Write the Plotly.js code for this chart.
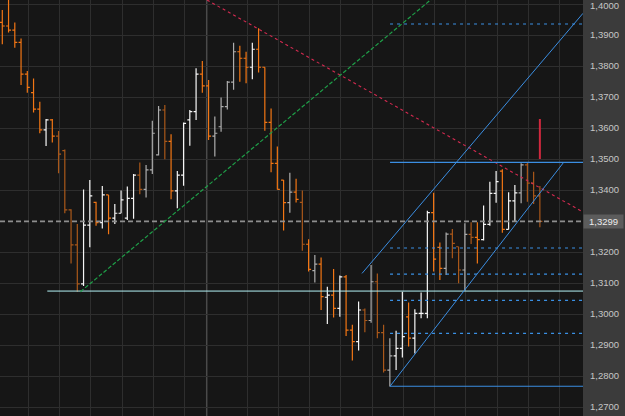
<!DOCTYPE html>
<html><head><meta charset="utf-8">
<script src="https://cdn.plot.ly/plotly-3.0.1.min.js"></script>
<style>html,body{margin:0;padding:0;background:#3b3b3b;}#chart{width:625px;height:416px;}</style>
</head><body><div id="chart"></div>
<script>
// OHLC bars (index 0..86)
const openP  = [1.3941,1.3929,1.3916,1.3876,1.3774,1.3714,1.3661,1.3594,1.3626,1.3574,
                1.3527,1.3336,1.3223,1.3097,1.3287,1.3360,1.3295,1.3384,1.3309,1.3325,
                1.3309,1.3373,1.3448,1.3402,1.3465,1.3513,1.3658,1.3557,1.3397,1.3448,
                1.3626,1.3653,1.3774,1.3736,1.3574,1.3604,1.3669,1.3748,1.3846,1.3825,
                1.3796,1.3854,1.3796,1.3618,1.3486,1.3432,1.3359,1.3393,1.3360,1.3225,
                1.3140,1.3161,1.3054,1.3061,1.3018,1.3120,1.2948,1.2911,1.3013,1.2979,
                1.3104,1.2940,1.2819,1.2865,1.2889,1.2991,1.2922,1.3002,1.3002,1.3327,
                1.3215,1.3147,1.3258,1.3217,1.3142,1.3257,1.3247,1.3240,1.3289,1.3389,
                1.3461,1.3273,1.3365,1.3391,1.3481,1.3422,1.3381];
const highP  = [1.3981,1.4025,1.3940,1.3889,1.3784,1.3760,1.3685,1.3629,1.3629,1.3590,
                1.3531,1.3338,1.3290,1.3402,1.3432,1.3362,1.3413,1.3384,1.3355,1.3398,
                1.3411,1.3452,1.3489,1.3481,1.3623,1.3671,1.3674,1.3580,1.3461,1.3618,
                1.3658,1.3793,1.3816,1.3755,1.3637,1.3698,1.3752,1.3875,1.3865,1.3846,
                1.3875,1.3922,1.3796,1.3663,1.3540,1.3432,1.3456,1.3436,1.3398,1.3241,
                1.3190,1.3182,1.3088,1.3145,1.3124,1.3126,1.2965,1.3040,1.3018,1.3158,
                1.3131,1.2965,1.2922,1.2946,1.3072,1.3037,1.3015,1.3069,1.3333,1.3391,
                1.3231,1.3263,1.3274,1.3217,1.3293,1.3296,1.3296,1.3350,1.3427,1.3461,
                1.3467,1.3393,1.3416,1.3486,1.3488,1.3459,1.3413];
const lowP   = [1.3870,1.3908,1.3859,1.3739,1.3714,1.3650,1.3583,1.3542,1.3553,1.3454,
                1.3325,1.3163,1.3072,1.3090,1.3215,1.3285,1.3276,1.3257,1.3290,1.3325,
                1.3303,1.3307,1.3386,1.3376,1.3452,1.3511,1.3499,1.3370,1.3341,1.3414,
                1.3543,1.3626,1.3714,1.3561,1.3508,1.3588,1.3660,1.3723,1.3749,1.3744,
                1.3757,1.3779,1.3591,1.3457,1.3402,1.3269,1.3327,1.3360,1.3204,1.3137,
                1.3102,1.3013,1.2968,1.2989,1.2991,1.2929,1.2850,1.2882,1.2941,1.2972,
                1.2922,1.2811,1.2766,1.2819,1.2860,1.2895,1.2873,1.2986,1.2986,1.3137,
                1.3110,1.3126,1.3180,1.3099,1.3075,1.3226,1.3163,1.3237,1.3285,1.3359,
                1.3262,1.3273,1.3298,1.3357,1.3362,1.3355,1.3280];
const closeP = [1.3929,1.3916,1.3876,1.3774,1.3731,1.3661,1.3594,1.3626,1.3574,1.3516,
                1.3336,1.3223,1.3097,1.3287,1.3381,1.3295,1.3384,1.3309,1.3325,1.3368,
                1.3373,1.3448,1.3402,1.3465,1.3583,1.3658,1.3557,1.3397,1.3448,1.3615,
                1.3653,1.3774,1.3736,1.3574,1.3583,1.3669,1.3748,1.3846,1.3825,1.3796,
                1.3854,1.3796,1.3618,1.3486,1.3402,1.3359,1.3393,1.3370,1.3225,1.3144,
                1.3161,1.3056,1.3061,1.3018,1.3120,1.2948,1.2911,1.3013,1.2979,1.3104,
                1.2940,1.2819,1.2865,1.2889,1.2927,1.2922,1.3002,1.3002,1.3327,1.3177,
                1.3147,1.3258,1.3228,1.3142,1.3257,1.3247,1.3240,1.3289,1.3389,1.3427,
                1.3273,1.3365,1.3391,1.3481,1.3422,1.3381,1.3299];
// bar shade: w = white, g = grey, o = orange, d = dark orange
const shade  = ['o','o','o','o','o','o','o','w','o','d',
                'd','d','d','w','w','o','w','o','w','w',
                'w','w','d','g','g','g','d','o','w','w',
                'w','w','o','o','g','g','g','g','o','o',
                'w','o','o','o','o','o','g','o','d','o',
                'g','o','w','o','w','o','o','w','d','g',
                'd','d','g','w','w','o','w','w','w','o',
                'o','g','d','d','g','d','o','w','w','w',
                'o','w','w','g','d','d','d'];
const shadeColor = {w:'#f6f6f6', g:'#adadad', o:'#f27614', d:'#aa581a'};

// drawn objects
const currentPrice = 1.3299;
const supportLevel = 1.3074, supportStart = 7.2;
const redTrendX = [32.75, 92.9], redTrendY = [1.40129, 1.3329];
const greenTrendX = [12.5, 70], greenTrendY = [1.3072, 1.4038];
const channelLowX = [62.03, 89.8], channelLowY = [1.2767, 1.3489];
const channelUpX = [57.55, 92.9], channelUpY = [1.3131, 1.3970];
const channelStart = 62.03, channelBase = 1.2767, channelTop = 1.3489;
const fibLevels = [1.29377, 1.30442, 1.31285, 1.32129, 1.39355];
const signalX = 86, signalY = [1.3500, 1.3629];
const sessionLineX = 32.7;
const xGrid = [4.15,9.15,14.15,19.15,24.15,29.15,39.15,44.15,49.15,54.15,59.15,64.15,69.15,74.15,79.15,84.15,89.15];
const yTicks = [1.27,1.28,1.29,1.30,1.31,1.32,1.34,1.35,1.36,1.37,1.38,1.39,1.40];
const yTickText = ['1,2700','1,2800','1,2900','1,3000','1,3100','1,3200','1,3400','1,3500',
                   '1,3600','1,3700','1,3800','1,3900',''];
const topLabel = '1,4000', topValue = 1.40;
const xMax = 92.9;

const idx = openP.map((_, i) => i);
const traces = [];
function line(x, y, color, dash, width) {
  traces.push({type:'scatter', mode:'lines', x:x, y:y, hoverinfo:'skip',
    line:{color:color, dash:dash||'solid', width:width||1}});
}
line([-0.368, xMax], [currentPrice, currentPrice], '#8e8e8e', '5px,3px', 1.7);
line([supportStart, xMax], [supportLevel, supportLevel], '#b4f2f6', 'solid', 1);
line(redTrendX, redTrendY, '#d42a50', '3px,3px', 1.1);
line(greenTrendX, greenTrendY, '#1f9e48', '4px,2px', 1.2);
fibLevels.forEach(v => line([channelStart, xMax], [v, v], '#3a90e4', '3px,4px', 1.2));
line([channelStart, xMax], [channelBase, channelBase], '#3b8ee2', 'solid', 1.2);
line([channelStart, xMax], [channelTop, channelTop], '#3b8ee2', 'solid', 1.2);
line(channelLowX, channelLowY, '#3b8ee2', 'solid', 1);
line(channelUpX, channelUpY, '#3b8ee2', 'solid', 1);
line([signalX, signalX], signalY, '#d0283e', 'solid', 2);

['d','g','o','w'].forEach(s => {
  const sel = idx.filter(i => shade[i] === s);
  const c = shadeColor[s];
  traces.push({type:'ohlc', x:sel, open:sel.map(i=>openP[i]), high:sel.map(i=>highP[i]),
    low:sel.map(i=>lowP[i]), close:sel.map(i=>closeP[i]), tickwidth:0.4, hoverinfo:'skip',
    increasing:{line:{color:c, width:1.2}}, decreasing:{line:{color:c, width:1.2}}});
});

const labelFont = {family:'Liberation Sans, Arial, sans-serif', size:9.5, color:'#c6c6c6'};
const layout = {
  width:625, height:416, margin:{l:0, r:42, t:0, b:0},
  paper_bgcolor:'#3b3b3b', plot_bgcolor:'#161616', showlegend:false, separators:',.',
  xaxis:{range:[-0.368, xMax], tickvals:xGrid, showticklabels:false, ticks:'',
    gridcolor:'#2e2e2e', gridwidth:1, zeroline:false, showline:false,
    rangeslider:{visible:false}, fixedrange:true},
  yaxis:{side:'right', range:[1.26710, 1.40129], tickvals:yTicks, ticktext:yTickText,
    gridcolor:'#2e2e2e', gridwidth:1, zeroline:false, showline:false, ticks:'',
    ticklabelstandoff:6, tickfont:labelFont, fixedrange:true},
  shapes:[{type:'line', xref:'x', yref:'paper', x0:sessionLineX, x1:sessionLineX, y0:0, y1:1,
    line:{color:'#4a4a4a', width:1.5}, layer:'below'}],
  annotations:[
    {xref:'paper', yref:'y', x:1, y:topValue, xanchor:'left', yanchor:'top', yshift:5, xshift:6,
      text:topLabel, showarrow:false, font:labelFont, borderpad:0},
    {xref:'paper', yref:'y', x:1, y:currentPrice, xanchor:'left', yanchor:'middle',
    text:'1,3299', showarrow:false, bgcolor:'#5c5c5c', width:37, height:11, align:'center',
    font:{family:'Liberation Sans, Arial, sans-serif', size:9.5, color:'#ececec'}}]
};
Plotly.newPlot('chart', traces, layout, {staticPlot:true, displayModeBar:false});
</script></body></html>
